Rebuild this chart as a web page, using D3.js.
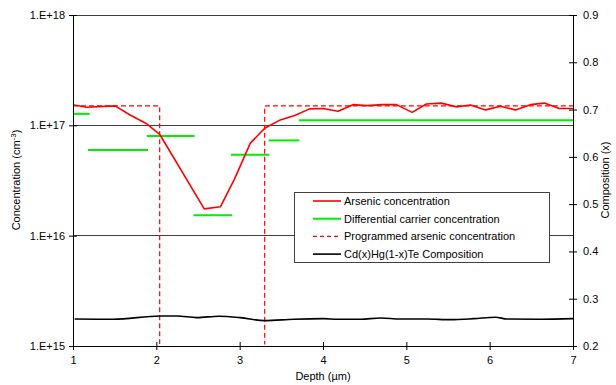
<!DOCTYPE html>
<html><head><meta charset="utf-8">
<script src="https://cdn.jsdelivr.net/npm/d3@7"></script>
<style>body{margin:0;background:#fff}svg{display:block}text{font-family:"Liberation Sans",Arial,sans-serif}</style>
</head><body><svg id="c" width="616" height="385"></svg>
<script>
const arsenicX = [1.01,1.165,1.505,1.685,1.878,2.04,2.575,2.77,2.936,3.128,3.30,3.477,3.66,3.84,4.0,4.18,4.36,4.53,4.71,4.88,5.07,5.24,5.42,5.60,5.77,5.95,6.13,6.31,6.49,6.655,6.835,7.0];
const arsenicY = [1.53e17,1.46e17,1.5e17,1.24e17,1.04e17,8.3e16,1.75e16,1.83e16,3.24e16,6.9e16,9.4e16,1.11e17,1.23e17,1.41e17,1.42e17,1.34e17,1.54e17,1.51e17,1.54e17,1.54e17,1.31e17,1.56e17,1.59e17,1.47e17,1.53e17,1.38e17,1.49e17,1.38e17,1.54e17,1.59e17,1.42e17,1.42e17];
const programmedX = [1,2.04,2.04,3.30,3.30,7];
const programmedY = [1.5e17,1.5e17,1e15,1e15,1.5e17,1.5e17];
const carrierStart = [1.01,1.18,1.885,2.446,2.896,3.348,3.71];
const carrierEnd   = [1.2,1.90,2.46,2.91,3.357,3.717,7.0];
const carrierY     = [1.27e17,5.97e16,8.0e16,1.53e16,5.4e16,7.3e16,1.11e17];
const compX = [1.02,1.485,2.046,2.247,2.487,2.747,3.008,3.297,3.649,4.01,4.17,4.45,4.69,4.93,5.25,5.53,5.81,6.07,6.21,6.61,7.0];
const compY = [0.257,0.2565,0.2635,0.2635,0.26,0.263,0.26,0.2536,0.2565,0.2578,0.2565,0.2565,0.2593,0.257,0.257,0.2557,0.2578,0.2608,0.257,0.2565,0.2578];
const xTicks = [1,2,3,4,5,6,7];
const yTicks = [1e15,1e16,1e17,1e18];
const y2Ticks = [0.2,0.3,0.4,0.5,0.6,0.7,0.8,0.9];
const legendLabels = ["Arsenic concentration","Differential carrier concentration","Programmed arsenic concentration","Cd(x)Hg(1-x)Te Composition"];

const L=73,R=573,T=15,B=346;
const svg=d3.select("#c");
const x=d3.scaleLinear().domain([1,7]).range([L,R]);
const y=d3.scaleLog().domain([1e15,1e18]).range([B,T]);
const y2=d3.scaleLinear().domain([0.2,0.9]).range([B,T]);

svg.append("defs").append("clipPath").attr("id","plotclip")
  .append("rect").attr("x",L-2).attr("y",0).attr("width",R-L+4).attr("height",B-1.5);

// gridlines
svg.append("g").selectAll("line").data(yTicks.slice(1)).join("line")
  .attr("x1",L).attr("x2",R).attr("y1",d=>y(d)).attr("y2",d=>y(d))
  .attr("stroke","#404040").attr("stroke-width",1).attr("shape-rendering","crispEdges");

const data=svg.append("g").attr("clip-path","url(#plotclip)");
// programmed dashed
data.append("path").datum(programmedX.map((d,i)=>[d,programmedY[i]]))
  .attr("d",d3.line().x(d=>x(d[0])).y(d=>y(d[1])))
  .attr("fill","none").attr("stroke","#ff0000").attr("stroke-width",1.2).attr("stroke-dasharray","5,3");

// carrier segments
data.append("g").selectAll("line").data(carrierY).join("line")
  .attr("x1",(d,i)=>x(carrierStart[i])).attr("x2",(d,i)=>x(carrierEnd[i]))
  .attr("y1",d=>y(d)).attr("y2",d=>y(d))
  .attr("stroke","#00ee00").attr("stroke-width",2);

// arsenic
data.append("path").datum(arsenicX.map((d,i)=>[d,arsenicY[i]]))
  .attr("d",d3.line().x(d=>x(d[0])).y(d=>y(d[1])))
  .attr("fill","none").attr("stroke","#ff0000").attr("stroke-width",1.6).attr("stroke-linejoin","round");

// composition
data.append("path").datum(compX.map((d,i)=>[d,compY[i]]))
  .attr("d",d3.line().curve(d3.curveMonotoneX).x(d=>x(d[0])).y(d=>y2(d[1])))
  .attr("fill","none").attr("stroke","#000").attr("stroke-width",1.6);

// axes (on top)
function styleAxis(g){
  g.select(".domain").attr("stroke","#000").attr("stroke-width",1.2);
  g.selectAll(".tick text").attr("font-size",11).attr("fill","#000").attr("font-family","Liberation Sans, Arial, sans-serif");
  g.selectAll(".tick line").attr("stroke","#000");
}
const gx=svg.append("g").attr("transform",`translate(0,${B})`)
  .call(d3.axisBottom(x).tickValues(xTicks).tickFormat(d3.format("d")).tickSizeOuter(0).tickSize(4).tickPadding(6));
styleAxis(gx); gx.selectAll(".tick line").attr("y1",-4).attr("y2",4);
const gy=svg.append("g").attr("transform",`translate(${L},0)`)
  .call(d3.axisLeft(y).tickValues(yTicks).tickFormat(d=>"1.E+"+Math.round(Math.log10(d))).tickSizeOuter(0).tickSize(4).tickPadding(4));
styleAxis(gy); gy.selectAll(".tick line").attr("x1",-4).attr("x2",4);
const gy2=svg.append("g").attr("transform",`translate(${R},0)`)
  .call(d3.axisRight(y2).tickValues(y2Ticks).tickFormat(d3.format(".1f")).tickSizeOuter(0).tickSize(4).tickPadding(6));
styleAxis(gy2); gy2.selectAll(".tick line").attr("x1",-4).attr("x2",4);
svg.selectAll(".domain").attr("shape-rendering","crispEdges");

// legend
const lg=svg.append("g");
lg.append("rect").attr("x",294.5).attr("y",192.5).attr("width",255).attr("height",70)
  .attr("fill","#fff").attr("stroke","#404040").attr("stroke-width",1);
const lstyles=[{c:"#ff0000",d:null,w:1.6},{c:"#00ee00",d:null,w:2},{c:"#ff0000",d:"4,3",w:1.2},{c:"#000",d:null,w:1.6}];
legendLabels.forEach((t,i)=>{
  const yy=201+i*17.7;
  lg.append("line").attr("x1",313).attr("x2",341).attr("y1",yy).attr("y2",yy)
    .attr("stroke",lstyles[i].c).attr("stroke-width",lstyles[i].w).attr("stroke-dasharray",lstyles[i].d);
  lg.append("text").attr("x",344).attr("y",yy).attr("dy","0.35em").attr("font-size",11).text(t);
});

// titles
svg.append("text").attr("x",(L+R)/2).attr("y",380).attr("text-anchor","middle").attr("font-size",11).text("Depth (µm)");
const lt=svg.append("text").attr("transform","translate(20,180) rotate(-90)").attr("text-anchor","middle").attr("font-size",11);
lt.append("tspan").text("Concentration (cm");
lt.append("tspan").attr("font-size",8).attr("dy",-4).text("-3");
lt.append("tspan").attr("dy",4).text(")");
svg.append("text").attr("transform","translate(609,180) rotate(-90)").attr("text-anchor","middle").attr("font-size",11).text("Composition (x)");
</script></body></html>
